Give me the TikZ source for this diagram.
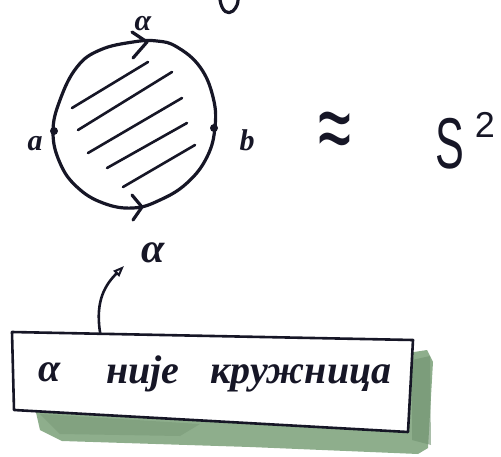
\documentclass[tikz,border=0pt]{standalone}
\usepackage{fontspec}
\setmainfont{Liberation Serif}
\newfontfamily\sansf{Liberation Sans}
\usetikzlibrary{arrows.meta}
\definecolor{ink}{RGB}{22,22,38}
\definecolor{moss}{RGB}{142,174,140}
\definecolor{mossdark}{RGB}{112,146,112}
\begin{document}
\begin{tikzpicture}[x=1pt,y=-1pt, line cap=round, line join=round,
  inkline/.style={draw=ink, line width=3.2pt},
  hatchline/.style={draw=ink, line width=2.6pt},
  hand/.style={inner sep=0pt, text=ink, font=\itshape},
  dotnode/.style={circle, fill=ink, inner sep=0pt, minimum size=8pt}]
\useasboundingbox (0,0) rectangle (501,456);
% shadow of the box
\fill[moss] (35,408) -- (40,430) -- (62,441) -- (250,447) -- (418,454) -- (428,448) -- (433,362) -- (427,350) -- (414,352) -- cycle;
\fill[mossdark, opacity=0.6] (412,360) -- (430,356) -- (431,445) -- (412,440) -- cycle;
\fill[mossdark, opacity=0.4] (40,414) -- (200,424) -- (180,436) -- (60,434) -- cycle;
% box
\filldraw[fill=white, draw=ink, line width=2.6pt] (12,332) -- (413,340) -- (408,432) -- (14,410) -- cycle;
\node[hand, anchor=base, font=\bfseries\itshape\fontsize{40}{40}\selectfont] (boxalpha) at (50,381) {α};
\node[hand, anchor=base, font=\bfseries\itshape\fontsize{40}{40}\selectfont] (nije) at (143,383) {није};
\node[hand, anchor=base, font=\bfseries\itshape\fontsize{40}{40}\selectfont] (kruznica) at (301,383) {кружница};
% disc
\draw[inkline] plot[smooth cycle, tension=0.7] coordinates {(53,132) (60,100) (77,67) (100,50) (133,42) (157,41) (177,47) (200,67) (213,97) (215,127) (207,157) (187,183) (160,200) (133,208) (103,203) (77,187) (60,163)};
\node[dotnode] (pa) at (54,131) {};
\node[dotnode] (pb) at (214,128) {};
% arrows on the boundary
\draw[inkline] (132,32) -- (147,42) -- (133,58);
\draw[inkline] (132,195) -- (142,207) -- (133,220);
% hatching
\draw[hatchline] (72,108) -- (148,62);
\draw[hatchline] (78,130) -- (172,72);
\draw[hatchline] (88,153) -- (182,98);
\draw[hatchline] (107,168) -- (187,123);
\draw[hatchline] (123,187) -- (195,145);
% labels
\node[hand, anchor=base, font=\bfseries\itshape\fontsize{30}{30}\selectfont] (la) at (35,150) {a};
\node[hand, anchor=base, font=\bfseries\itshape\fontsize{30}{30}\selectfont] (lb) at (247,150) {b};
\node[hand, anchor=base, font=\bfseries\itshape\fontsize{30}{30}\selectfont] (topalpha) at (143,30) {α};
\node[hand, anchor=base, font=\bfseries\itshape\fontsize{42}{42}\selectfont] (botalpha) at (153,262) {α};
\node[inner sep=0pt, text=ink, font=\sansf\fontsize{60}{60}\selectfont] (approx) at (335,137) {\scalebox{1}[1.7]{≈}};
\node[inner sep=0pt, text=ink, anchor=base, font=\sansf\fontsize{72}{72}\selectfont] (S) at (450,168) {\scalebox{0.6}[1]{S}};
\node[inner sep=0pt, text=ink, anchor=base, font=\sansf\fontsize{36}{36}\selectfont] (two) at (485,137) {2};
% pointer from box
\coordinate (ptip) at (124,266);
\draw[ink, line width=2.6pt, -{Triangle[open, length=11pt, width=8pt, line width=2pt]}] (100,332) .. controls (95,300) and (106,284) .. (ptip);
% cut-off glyph at top
\draw[inkline] (220,0) .. controls (222,12) and (228,15) .. (233,11) .. controls (237,7) and (238,3) .. (238,0);
\end{tikzpicture}
\end{document}
